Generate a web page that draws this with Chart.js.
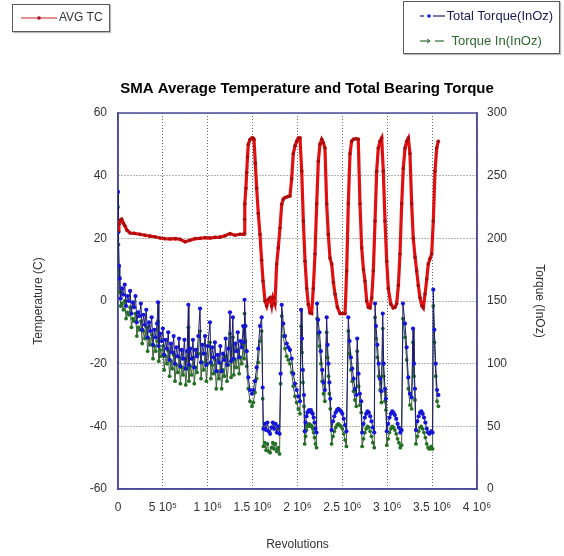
<!DOCTYPE html>
<html><head><meta charset="utf-8">
<script src="https://cdn.jsdelivr.net/npm/chart.js@4"></script>
<style>
html,body{margin:0;padding:0;background:#fff;}
#wrap{position:relative;width:564px;height:556px;font-family:"Liberation Sans",Arial,sans-serif;}
canvas{position:absolute;left:0;top:0;}
.lg{position:absolute;border:1.5px solid #5a5a5a;background:#fff;box-sizing:border-box;box-shadow:1px 1px 1px #bbb;}
.lgt{position:absolute;font-size:12px;white-space:nowrap;line-height:14px;}
</style></head><body>
<div id="wrap">
<canvas id="c" width="564" height="556"></canvas>
<div class="lg" style="left:12px;top:4px;width:98px;height:28px;">
  <svg style="position:absolute;left:8px;top:8px" width="40" height="10"><line x1="0" y1="5" x2="36" y2="5" stroke="#cc2222" stroke-width="1.2"/><circle cx="18" cy="5" r="1.8" fill="#aa1111"/></svg>
  <span class="lgt" style="left:46px;top:5px;color:#333;">AVG TC</span>
</div>
<div class="lg" style="left:403px;top:1px;width:157px;height:53px;">
  <svg style="position:absolute;left:15px;top:9px" width="28" height="10"><line x1="1" y1="5" x2="5" y2="5" stroke="#1b1b6e" stroke-width="1.2"/><circle cx="10" cy="5" r="1.8" fill="#1515d8"/><line x1="14" y1="5" x2="26" y2="5" stroke="#1b1b6e" stroke-width="1.2"/></svg>
  <span class="lgt" style="left:42.5px;top:7px;color:#1a1a55;font-size:13px;">Total Torque(InOz)</span>
  <svg style="position:absolute;left:15px;top:34px" width="30" height="10"><line x1="1" y1="5" x2="11" y2="5" stroke="#2d6a2d" stroke-width="1.2"/><polyline points="8,3 11,5 8,7" fill="none" stroke="#2d6a2d" stroke-width="1"/><line x1="16" y1="5" x2="25" y2="5" stroke="#2d6a2d" stroke-width="1.2"/></svg>
  <span class="lgt" style="left:47.5px;top:32px;color:#2d6a2d;font-size:13px;">Torque In(InOz)</span>
</div>
</div>
<script>
// x values in millions of revolutions
const xTickLabels = ["0","5 10\u2075","1 10\u2076","1.5 10\u2076","2 10\u2076","2.5 10\u2076","3 10\u2076","3.5 10\u2076","4 10\u2076"];

const tcRevolutions = [0.000,0.010,0.025,0.041,0.060,0.078,0.100,0.134,0.180,0.245,0.300,0.357,0.410,0.468,0.520,0.579,0.640,0.691,0.747,0.802,0.860,0.914,0.970,1.025,1.080,1.137,1.192,1.248,1.304,1.359,1.400,1.404,1.410,1.415,1.425,1.434,1.443,1.452,1.470,1.490,1.505,1.515,1.530,1.545,1.563,1.582,1.600,1.616,1.638,1.657,1.675,1.694,1.713,1.727,1.749,1.768,1.786,1.805,1.824,1.842,1.861,1.890,1.916,1.935,1.953,1.972,1.991,2.009,2.028,2.047,2.065,2.084,2.103,2.120,2.139,2.158,2.176,2.195,2.214,2.232,2.250,2.270,2.288,2.306,2.325,2.343,2.362,2.381,2.400,2.418,2.445,2.474,2.500,2.530,2.548,2.566,2.585,2.603,2.622,2.650,2.677,2.696,2.715,2.735,2.752,2.771,2.790,2.808,2.827,2.845,2.864,2.882,2.900,2.920,2.938,2.956,2.975,2.994,3.012,3.040,3.067,3.086,3.105,3.124,3.142,3.161,3.179,3.198,3.217,3.235,3.253,3.272,3.290,3.310,3.328,3.346,3.365,3.385,3.402,3.421,3.440,3.457,3.476,3.495,3.513,3.532,3.551,3.569];
const avgTC = [22.5,24.5,25.8,26.1,24.8,23.9,22.6,21.7,21.6,21.3,21.0,20.7,20.5,20.1,19.9,19.8,19.9,19.7,18.9,19.4,19.9,20.0,20.2,20.1,20.3,20.4,20.8,21.5,21.0,21.3,21.3,21.4,26,31,36,41,46,50,51.5,52,52,51.5,44,36,28,21.3,13,6.4,0,-1.6,0.5,1,-1.6,1,-0.9,11.8,17,23.3,30.9,32.5,33,33.3,33.5,39,47,49.5,51,52,52,41.4,25.5,12.7,4,-1,-3.8,-4,4,15,31,44.6,50,51.6,50.5,48.8,31,21.3,13.7,11.8,6,2.2,-2,-4,-4,-4,9.6,31,47,51,51.6,51.8,51.6,31,17,10,6.4,0,-2,-2.2,1,9.6,25.5,41.4,48.8,51,52,41.4,25.5,12.7,4,-1,-2.2,-2,-0.9,5,15,31,42.4,48.8,51,52,47,31,20,14,9.6,5,1,-1.5,-2.2,2.2,7,11.8,13.5,15,25.5,41.4,48.8,51];

const torqueRevolutions = [0.000,0.005,0.012,0.020,0.030,0.045,0.060,0.075,0.090,0.105,0.120,0.135,0.150,0.165,0.180,0.195,0.210,0.225,0.240,0.255,0.270,0.285,0.300,0.315,0.330,0.345,0.360,0.375,0.390,0.405,0.420,0.435,0.446,0.455,0.470,0.485,0.500,0.515,0.530,0.545,0.560,0.575,0.590,0.605,0.620,0.635,0.650,0.665,0.680,0.695,0.710,0.725,0.740,0.755,0.770,0.784,0.790,0.805,0.820,0.835,0.850,0.865,0.880,0.895,0.914,0.925,0.940,0.955,0.970,0.985,1.000,1.025,1.035,1.050,1.065,1.080,1.095,1.110,1.125,1.140,1.155,1.170,1.185,1.200,1.215,1.230,1.248,1.260,1.280,1.290,1.305,1.320,1.335,1.350,1.365,1.380,1.395,1.405,1.410,1.420,1.434,1.452,1.471,1.493,1.508,1.526,1.545,1.563,1.582,1.601,1.612,1.620,1.635,1.650,1.665,1.680,1.695,1.710,1.725,1.740,1.755,1.770,1.785,1.800,1.812,1.824,1.842,1.861,1.880,1.897,1.916,1.935,1.953,1.972,1.991,2.009,2.028,2.040,2.050,2.060,2.072,2.080,2.090,2.100,2.110,2.120,2.130,2.140,2.150,2.160,2.170,2.180,2.190,2.200,2.212,2.218,2.230,2.245,2.260,2.275,2.290,2.305,2.325,2.335,2.345,2.355,2.365,2.380,2.395,2.410,2.425,2.440,2.455,2.470,2.485,2.500,2.515,2.530,2.545,2.566,2.580,2.595,2.610,2.625,2.640,2.655,2.665,2.680,2.695,2.710,2.720,2.735,2.750,2.765,2.780,2.795,2.810,2.825,2.840,2.855,2.864,2.875,2.890,2.905,2.920,2.935,2.950,2.960,2.975,2.985,2.995,3.010,3.025,3.040,3.055,3.070,3.085,3.100,3.115,3.130,3.145,3.160,3.175,3.198,3.216,3.235,3.253,3.272,3.287,3.298,3.309,3.320,3.335,3.350,3.365,3.380,3.395,3.410,3.425,3.440,3.455,3.470,3.490,3.505,3.513,3.525,3.540,3.555,3.570];
const totalTorque = [237,205,178,168,152,160,155,163,146,154,150,158,140,149,145,154,133,141,138,148,127,139,131,143,121,133,126,137,115,127,121,132,149,114,124,118,128,107,119,112,125,103,116,109,122,100,113,106,120,98,111,104,119,96,110,147,99,112,104,119,97,111,106,122,144,101,115,108,122,99,114,133,101,113,105,117,94,107,101,114,94,108,103,120,99,112,141,102,137,104,116,110,125,105,118,113,130,117,151,130,110,89,79,76,79,86,97,112,130,137,81,48,52,47,53,46,44,49,53,48,52,45,50,44,92,147,132,122,116,113,111,104,92,84,79,74,70,143,120,95,75,46,53,58,61,62,63,62,63,61,60,57,53,48,45,148,135,125,110,95,85,79,137,115,100,85,72,47,54,58,61,63,64,63,62,60,56,51,46,137,118,105,96,88,80,75,120,92,76,70,45,52,57,60,62,61,58,54,49,45,148,130,115,100,88,78,140,100,80,72,46,52,57,60,62,61,59,56,52,49,45,47,148,132,113,89,76,73,128,100,80,47,54,58,61,62,60,57,53,48,45,44,46,45,159,127,100,79,75];
const torqueIn = [225,195,168,157,146,148,143,150,136,141,139,145,129,136,134,140,122,129,127,134,116,126,120,129,110,120,115,123,104,114,110,118,134,102,111,106,114,95,106,100,110,90,102,96,107,86,99,93,105,84,97,91,104,83,96,129,86,98,91,105,84,97,93,108,126,88,101,95,108,86,100,117,88,99,92,103,80,94,88,100,80,95,90,106,86,99,124,89,121,91,103,97,111,92,105,100,116,104,140,118,98,80,70,66,69,77,88,101,118,126,72,34,37,31,36,30,29,33,37,32,36,30,33,28,84,138,122,112,106,103,100,93,82,74,69,64,60,130,109,85,66,36,42,47,50,51,52,50,51,50,48,45,41,36,33,136,124,114,100,86,76,70,125,105,90,76,64,36,42,46,49,51,52,51,50,48,44,39,34,126,108,95,86,78,71,66,110,82,67,61,34,40,45,48,50,49,46,42,37,33,137,120,105,90,79,69,128,90,70,63,35,40,45,48,50,49,47,44,40,37,33,35,136,121,103,80,67,64,117,90,71,36,42,46,49,50,48,45,41,36,33,32,34,32,146,117,90,70,66];

const toXY = (xs, ys) => xs.map((x, i) => ({x: x, y: ys[i]}));
const FONT = '"Liberation Sans", Arial, sans-serif';

const framePlugin = {
  id: 'frame',
  beforeDatasetsDraw(chart) {
    const a = chart.chartArea, c = chart.ctx;
    c.save(); c.strokeStyle = '#4b4b9b'; c.lineWidth = 1.5;
    c.strokeRect(a.left, a.top, a.right - a.left, a.bottom - a.top);
    c.restore();
  },
  afterDraw(chart) {
    const c = chart.ctx;
    c.save(); c.font = 'bold 15px ' + FONT; c.fillStyle = '#000';
    c.textAlign = 'center'; c.textBaseline = 'middle';
    c.fillText('SMA Average Temperature and Total Bearing Torque', 307, 89);
    c.restore();
  }
};

new Chart(document.getElementById('c'), {
  type: 'line',
  data: {
    datasets: [
      {label: 'AVG TC', data: toXY(tcRevolutions, avgTC), yAxisID: 'yL', order: 0,
       borderColor: '#e01010', borderWidth: 3.2, pointRadius: 1.8, pointBackgroundColor: '#a80c0c', pointBorderWidth: 0, tension: 0},
      {label: 'Total Torque(InOz)', data: toXY(torqueRevolutions, totalTorque), yAxisID: 'yR', order: 1,
       borderColor: '#1b1b6e', borderWidth: 1, pointRadius: 2.1, pointBackgroundColor: '#1515d8', pointBorderWidth: 0, tension: 0},
      {label: 'Torque In(InOz)', data: toXY(torqueRevolutions, torqueIn), yAxisID: 'yR', order: 2,
       borderColor: '#3c5e3c', borderWidth: 1, pointRadius: 1.9, pointBackgroundColor: '#237023', pointBorderWidth: 0, tension: 0}
    ]
  },
  options: {
    responsive: false, animation: false, devicePixelRatio: 1,
    layout: {padding: {top: 113, left: 0, right: 0, bottom: 0}},
    plugins: {legend: {display: false}, title: {display: false}, tooltip: {enabled: false}},
    scales: {
      x: {type: 'linear', min: 0, max: 4,
          afterFit: s => { s.height = 67; },
          ticks: {stepSize: 0.5, padding: 11, color: '#333', font: {family: FONT, size: 12},
                  callback: v => xTickLabels[Math.round(v * 2)], maxRotation: 0},
          grid: {color: '#6a6a6a', lineWidth: 1, drawTicks: false},
          border: {display: true, color: '#4b4b9b', width: 1.5, dash: [1, 2]},
          title: {display: true, text: 'Revolutions', color: '#333', font: {family: FONT, size: 12}, padding: 4}},
      yL: {position: 'left', min: -60, max: 60,
          afterFit: s => { s.width = 118; },
          ticks: {stepSize: 20, padding: 11, color: '#333', font: {family: FONT, size: 12}},
          grid: {color: '#6a6a6a', lineWidth: 1, drawTicks: false},
          border: {display: true, color: '#4b4b9b', width: 1.5, dash: [1, 2]},
          title: {display: true, text: 'Temperature (C)', color: '#333', font: {family: FONT, size: 12}, padding: 31}},
      yR: {position: 'right', min: 0, max: 300,
          afterFit: s => { s.width = 87; },
          ticks: {stepSize: 50, padding: 10, color: '#333', font: {family: FONT, size: 12}},
          grid: {drawOnChartArea: false, drawTicks: false},
          border: {display: true, color: '#4b4b9b', width: 1.5},
          title: {display: true, text: 'Torque (InOz)', color: '#333', font: {family: FONT, size: 12}, padding: 17}}
    }
  },
  plugins: [framePlugin]
});
</script>
</body></html>
